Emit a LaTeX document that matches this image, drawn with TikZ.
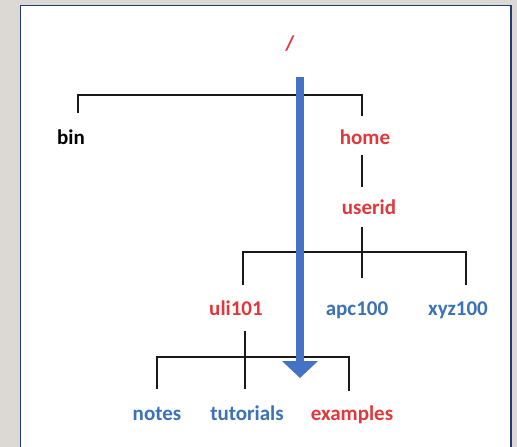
\documentclass[tikz,border=0pt]{standalone}
\usepackage{fontspec}
\setmainfont{Carlito}
\usetikzlibrary{arrows.meta}
\definecolor{bggrey}{HTML}{DCD9D5}
\definecolor{frameblue}{HTML}{1F3D7A}
\definecolor{lblred}{HTML}{E0383C}
\definecolor{lblblue}{HTML}{3B72B8}
\definecolor{arrowblue}{HTML}{4472C4}
\tikzset{
  lbl/.style={anchor=base, inner sep=0pt, font=\fontsize{21}{24}\selectfont\bfseries},
  redlbl/.style={lbl, text=lblred},
  bluelbl/.style={lbl, text=lblblue},
  blacklbl/.style={lbl, text=black},
  tree/.style={draw=black!90, line width=1.4pt},
  bigarrow/.style={draw=arrowblue, line width=8pt, -{Triangle[width=35pt,length=17pt]}}
}
\begin{document}
\begin{tikzpicture}[x=1pt,y=-1pt]
\useasboundingbox (0,0) rectangle (517,447);
\fill[bggrey] (0,0) rectangle (517,447);
\draw[fill=white, draw=frameblue, line width=1.5pt] (20.5,5.5) rectangle (511,470);

% labels
\node[redlbl] (root) at (290,50) {/};
\node[blacklbl] (bin) at (71,144) {bin};
\node[redlbl] (home) at (365,144) {home};
\node[redlbl] (userid) at (369,214) {userid};
\node[redlbl] (uli) at (236,315) {uli101};
\node[bluelbl] (apc) at (357,315) {apc100};
\node[bluelbl] (xyz) at (458,315) {xyz100};
\node[bluelbl] (notes) at (157,420) {notes};
\node[bluelbl] (tut) at (247,420) {tutorials};
\node[redlbl] (ex) at (352,420) {examples};

% top bracket: / -> bin, home
\coordinate (b1l) at (78,113);
\coordinate (b1lt) at (78,95);
\coordinate (b1rt) at (362,95);
\coordinate (b1r) at (362,116);
\draw[tree] (b1l) -- (b1lt) -- (b1rt) -- (b1r);

% home -> userid
\coordinate (hu1) at (362,155);
\coordinate (hu2) at (362,187);
\draw[tree] (hu1) -- (hu2);

% userid -> uli101, apc100, xyz100
\coordinate (u1) at (362,227);
\coordinate (u2) at (362,278);
\draw[tree] (u1) -- (u2);
\coordinate (b2l) at (243,285);
\coordinate (b2lt) at (243,252);
\coordinate (b2rt) at (466,252);
\coordinate (b2r) at (466,285);
\draw[tree] (b2l) -- (b2lt) -- (b2rt) -- (b2r);

% uli101 -> notes, tutorials, examples
\coordinate (c1) at (245,331);
\coordinate (c2) at (245,389);
\draw[tree] (c1) -- (c2);
\coordinate (b3l) at (157,389);
\coordinate (b3lt) at (157,357);
\coordinate (b3rt) at (349,357);
\coordinate (b3r) at (349,391);
\draw[tree] (b3l) -- (b3lt) -- (b3rt) -- (b3r);

% big blue arrow
\coordinate (as) at (300,77);
\coordinate (ae) at (300,378);
\draw[bigarrow] (as) -- (ae);
\end{tikzpicture}
\end{document}
